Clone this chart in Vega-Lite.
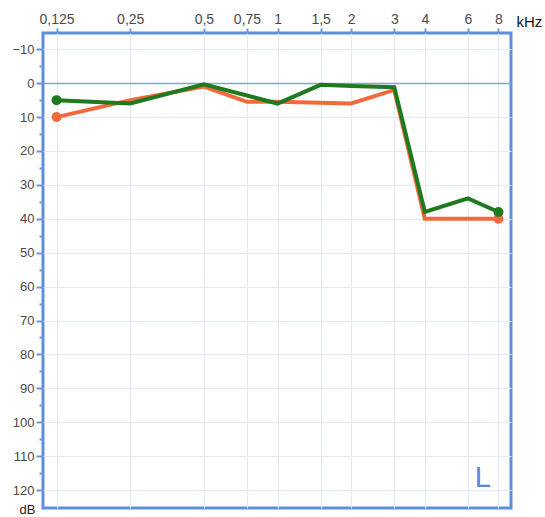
{
  "$schema": "https://vega.github.io/schema/vega-lite/v6.json",
  "width": 468,
  "height": 475,
  "autosize": "none",
  "padding": {"left": 43, "top": 33, "right": 34, "bottom": 9},
  "background": "white",
  "config": {
    "view": {"stroke": "#5f8edb", "strokeWidth": 3},
    "font": "Liberation Sans"
  },
  "data": {
    "values": [
      {"freq": 0.125, "dB": 10, "s": "1"},
      {"freq": 0.25, "dB": 5, "s": "1"},
      {"freq": 0.5, "dB": 1, "s": "1"},
      {"freq": 0.75, "dB": 5.5, "s": "1"},
      {"freq": 1, "dB": 5.5, "s": "1"},
      {"freq": 1.5, "dB": 5.8, "s": "1"},
      {"freq": 2, "dB": 6, "s": "1"},
      {"freq": 3, "dB": 2, "s": "1"},
      {"freq": 4, "dB": 40, "s": "1"},
      {"freq": 6, "dB": 40, "s": "1"},
      {"freq": 8, "dB": 40, "s": "1"},
      {"freq": 0.125, "dB": 5, "s": "2"},
      {"freq": 0.25, "dB": 6, "s": "2"},
      {"freq": 0.5, "dB": 0.3, "s": "2"},
      {"freq": 1, "dB": 6, "s": "2"},
      {"freq": 1.5, "dB": 0.5, "s": "2"},
      {"freq": 2, "dB": 0.8, "s": "2"},
      {"freq": 3, "dB": 1.2, "s": "2"},
      {"freq": 4, "dB": 38, "s": "2"},
      {"freq": 6, "dB": 34, "s": "2"},
      {"freq": 8, "dB": 38, "s": "2"}
    ]
  },
  "encoding": {
    "x": {
      "field": "freq",
      "type": "quantitative",
      "scale": {"type": "log", "base": 2, "domain": [0.11, 9.0], "nice": false},
      "axis": {
        "orient": "top",
        "values": [0.125, 0.25, 0.5, 0.75, 1, 1.5, 2, 3, 4, 6, 8],
        "labelExpr": "replace('' + datum.value, '.', ',')",
        "labelFlush": false,
        "labelOverlap": false,
        "labelFontSize": 14,
        "labelColor": "#4a4a4a",
        "labelPadding": 2,
        "tickSize": 5,
        "tickColor": "#6d95dc",
        "tickWidth": 2,
        "domain": false,
        "grid": true,
        "gridColor": "#e3e9f6",
        "gridWidth": 1,
        "title": "kHz",
        "titleX": 473,
        "titleY": -7,
        "titleAlign": "left",
        "titleBaseline": "alphabetic",
        "titleAngle": 0,
        "titleFontSize": 15,
        "titleFontWeight": "normal",
        "titleColor": "#111111"
      }
    },
    "y": {
      "field": "dB",
      "type": "quantitative",
      "scale": {"domain": [-14.8, 125.3], "reverse": true, "nice": false, "zero": false},
      "axis": {
        "orient": "left",
        "values": [-10, -5, 0, 5, 10, 15, 20, 25, 30, 35, 40, 45, 50, 55, 60, 65, 70, 75, 80, 85, 90, 95, 100, 105, 110, 115, 120],
        "labelExpr": "datum.value % 10 == 0 ? datum.label : ''",
        "labelFlush": false,
        "labelOverlap": false,
        "labelFontSize": 13,
        "labelColor": "#4a4a4a",
        "labelPadding": 2,
        "tickSize": {"condition": {"test": "datum.value % 10 != 0", "value": 4}, "value": 7},
        "tickColor": "#6d95dc",
        "tickWidth": 2,
        "domain": false,
        "grid": true,
        "gridColor": {"condition": {"test": "datum.value == 0", "value": "#7fa2e3"}, "value": "#e3e9f6"},
        "gridWidth": {"condition": {"test": "datum.value == 0", "value": 1.5}, "value": 1},
        "gridOpacity": {"condition": {"test": "datum.value % 10 != 0", "value": 0}, "value": 1},
        "title": "dB",
        "titleAngle": 0,
        "titleX": -16,
        "titleY": 480,
        "titleAlign": "center",
        "titleBaseline": "alphabetic",
        "titleFontSize": 13,
        "titleFontWeight": "normal",
        "titleColor": "#222222"
      }
    },
    "color": {
      "field": "s",
      "type": "nominal",
      "scale": {"domain": ["1", "2"], "range": ["#f26a3b", "#1f7a1f"]},
      "legend": null
    }
  },
  "layer": [
    {
      "mark": {"type": "line", "strokeWidth": 4, "clip": true}
    },
    {
      "transform": [{"filter": "datum.freq == 0.125 || datum.freq == 8"}],
      "mark": {"type": "circle", "size": 100, "opacity": 1}
    },
    {
      "data": {"values": [{"freq": 6.4, "dB": 119, "t": "L"}]},
      "mark": {"type": "text", "fontSize": 29, "align": "left", "baseline": "alphabetic", "font": "Liberation Sans"},
      "encoding": {
        "text": {"field": "t"},
        "color": {"value": "#5b87d6"}
      }
    }
  ]
}
